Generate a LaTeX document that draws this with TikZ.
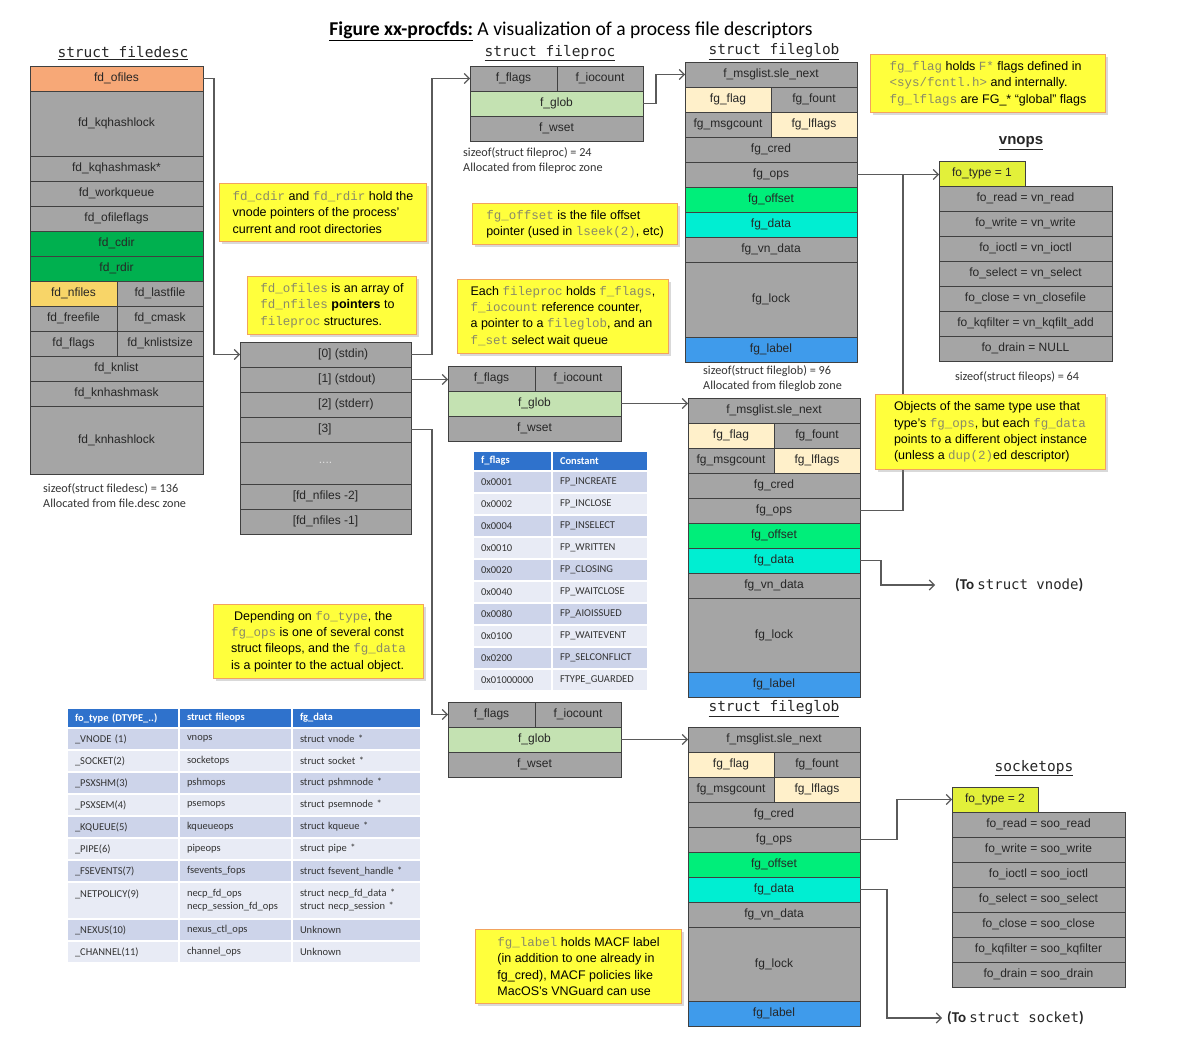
\documentclass[tikz,border=0pt]{standalone}
\usepackage{fontspec}
\setmainfont{Liberation Sans}
\newfontfamily\tabfont{Carlito}
\newfontfamily\codefont{Liberation Mono}
\newfontfamily\headmono{DejaVu Sans Mono}
\usetikzlibrary{positioning,arrows.meta,shadows}
\definecolor{cellgray}{HTML}{A5A5A5}
\definecolor{celledge}{HTML}{404040}
\definecolor{ofileorange}{HTML}{F7A877}
\definecolor{dirgreen}{HTML}{00B04F}
\definecolor{nfilesgold}{HTML}{F8D568}
\definecolor{globgreen}{HTML}{C4E2B2}
\definecolor{flagcream}{HTML}{FFF0CA}
\definecolor{offgreen}{HTML}{00EE7A}
\definecolor{datacyan}{HTML}{00EED2}
\definecolor{labelblue}{HTML}{3F9BEB}
\definecolor{typelime}{HTML}{E2F03A}
\definecolor{noteyellow}{HTML}{FFFF3C}
\definecolor{noteedge}{HTML}{F2A35E}
\definecolor{codegray}{HTML}{8A8A68}
\definecolor{wiregray}{HTML}{5A5A5A}
\definecolor{hdrblue}{HTML}{2F72CC}
\definecolor{rowdark}{HTML}{CDD4EA}
\definecolor{rowlight}{HTML}{E8EBF5}
\newcommand\boxsize{\fontsize{12}{14}\selectfont}
\newcommand\notesize{\fontsize{12.5}{16.3}\selectfont}
\newcommand\tabsize{\tabfont\fontsize{10.5}{13}\selectfont}
\newcommand\ccode[1]{{\codefont\color{codegray}#1}}
\tikzset{
  cell/.style   = {draw=celledge, fill=cellgray, line width=0.9pt, minimum width=#1,
                   minimum height=25, inner sep=0, outer sep=0, font=\boxsize, text=black!85},
  cell/.default = 173,
  idxtxt/.style = {font=\boxsize, text=black!85, inner sep=0},
  note/.style 2 args = {draw=noteedge, fill=noteyellow, line width=1pt, minimum width=#1,
                   minimum height=#2, align=left, inner sep=0, font=\notesize, anchor=north west,
                   drop shadow={opacity=0.3, shadow xshift=2pt, shadow yshift=-2.5pt}},
  wire/.style   = {draw=wiregray, line width=1.1pt, -{Straight Barb[length=5pt,width=10pt]}},
  joinline/.style = {draw=wiregray, line width=1.1pt},
  stitle/.style = {font=\headmono\fontsize{14.5}{16}\selectfont, text=black!85},
  sizeinfo/.style = {font=\tabfont\fontsize{12.2}{15}\selectfont, text=black!80, align=left,
                   anchor=north west, inner sep=0},
  tcell/.style  = {draw=white, line width=1.2pt, minimum height=22, inner xsep=8, inner ysep=0,
                   outer sep=0, align=left, font=\tabsize, text=black!80},
  thead/.style  = {fill=hdrblue, minimum height=20, text=white, font=\tabsize\bfseries},
  oa/.style = {tcell, text width=96}, ob/.style = {tcell, text width=97},
  oc/.style = {tcell, text width=113},
  fa/.style = {tcell, text width=63}, fb/.style = {tcell, text width=80},
}
\begin{document}
\begin{tikzpicture}[x=1pt, y=-1pt]
  \useasboundingbox (0,0) rectangle (1200,1043);
  \node (title) at (571,31) {\tabfont\fontsize{19.6}{22}\selectfont\underline{\textbf{Figure xx-procfds:}} A visualization of a process file descriptors};

  % struct filedesc
  \node[stitle] (tFd) at (123,53) {\underline{struct filedesc}};
  \node[cell, fill=ofileorange, anchor=north west] (fdA) at (30,66) {fd\_ofiles};
  \node[cell, minimum height=65, below=0pt of fdA] (fdB) {fd\_kqhashlock};
  \node[cell, below=0pt of fdB] (fdC) {fd\_kqhashmask*};
  \node[cell, below=0pt of fdC] (fdD) {fd\_workqueue};
  \node[cell, below=0pt of fdD] (fdE) {fd\_ofileflags};
  \node[cell, fill=dirgreen, below=0pt of fdE] (fdF) {fd\_cdir};
  \node[cell, fill=dirgreen, below=0pt of fdF] (fdG) {fd\_rdir};
  \node[cell=87, fill=nfilesgold, below right=0pt and 0pt of fdG.south west] (fdH) {fd\_nfiles};
  \node[cell=86, right=0pt of fdH] (fdH2) {fd\_lastfile};
  \node[cell=87, below=0pt of fdH] (fdJ) {fd\_freefile}; \node[cell=86, right=0pt of fdJ] (fdJ2) {fd\_cmask};
  \node[cell=87, below=0pt of fdJ] (fdK) {fd\_flags}; \node[cell=86, right=0pt of fdK] (fdK2) {fd\_knlistsize};
  \node[cell, below right=0pt and 0pt of fdK.south west] (fdL) {fd\_knlist};
  \node[cell, below=0pt of fdL] (fdM) {fd\_knhashmask};
  \node[cell, minimum height=68, below=0pt of fdM] (fdN) {fd\_knhashlock};
  \node[sizeinfo] (szFd) at (43,483) {sizeof(struct filedesc) = 136\\Allocated from file.desc zone};

  % fd_ofiles array
  \node[cell=171, anchor=north west] (ar0) at (240,342) {};
  \node[cell=171, below=0pt of ar0] (ar1) {};
  \node[cell=171, below=0pt of ar1] (ar2) {};
  \node[cell=171, below=0pt of ar2] (ar3) {};
  \node[cell=171, minimum height=42, text=black!12, below=0pt of ar3] (arD) {....};
  \node[cell=171, below=0pt of arD] (arN2) {[fd\_nfiles -2]};
  \node[cell=171, below=0pt of arN2] (arN1) {[fd\_nfiles -1]};
  \node[idxtxt, right=78pt of ar0.west] (ar0t) {[0] (stdin)};
  \node[idxtxt, right=78pt of ar1.west] (ar1t) {[1] (stdout)};
  \node[idxtxt, right=78pt of ar2.west] (ar2t) {[2] (stderr)};
  \node[idxtxt, right=78pt of ar3.west] (ar3t) {[3]};

  % struct fileproc (x3)
  \node[stitle] (tFp) at (550,53) {\underline{struct fileproc}};
  \node[cell=87, anchor=north west] (fp1a) at (470,66) {f\_flags}; \node[cell=86, right=0pt of fp1a] (fp1b) {f\_iocount};
  \node[cell, fill=globgreen, below right=0pt and 0pt of fp1a.south west] (fp1g) {f\_glob};
  \node[cell, below=0pt of fp1g] (fp1w) {f\_wset};
  \node[sizeinfo] (szFp) at (463,147) {sizeof(struct fileproc) = 24\\Allocated from fileproc zone};

  \node[cell=87, anchor=north west] (fp2a) at (448,366) {f\_flags}; \node[cell=86, right=0pt of fp2a] (fp2b) {f\_iocount};
  \node[cell, fill=globgreen, below right=0pt and 0pt of fp2a.south west] (fp2g) {f\_glob};
  \node[cell, below=0pt of fp2g] (fp2w) {f\_wset};

  \node[cell=87, anchor=north west] (fp3a) at (448,702) {f\_flags}; \node[cell=86, right=0pt of fp3a] (fp3b) {f\_iocount};
  \node[cell, fill=globgreen, below right=0pt and 0pt of fp3a.south west] (fp3g) {f\_glob};
  \node[cell, below=0pt of fp3g] (fp3w) {f\_wset};

  % struct fileglob (x3)
  \node[stitle] (tFg1) at (774,52) {\underline{struct fileglob}};
  \node[cell=172, anchor=north west] (fg1a) at (685,62) {f\_msglist.sle\_next};
  \node[cell=86, fill=flagcream, below right=0pt and 0pt of fg1a.south west] (fg1flag) {fg\_flag}; \node[cell=86, right=0pt of fg1flag] (fg1fount) {fg\_fount};
  \node[cell=86, below=0pt of fg1flag] (fg1cnt) {fg\_msgcount}; \node[cell=86, fill=flagcream, right=0pt of fg1cnt] (fg1lfl) {fg\_lflags};
  \node[cell=172, below right=0pt and 0pt of fg1cnt.south west] (fg1cred) {fg\_cred};
  \node[cell=172, below=0pt of fg1cred] (fg1ops) {fg\_ops};
  \node[cell=172, fill=offgreen, below=0pt of fg1ops] (fg1off) {fg\_offset};
  \node[cell=172, fill=datacyan, below=0pt of fg1off] (fg1data) {fg\_data};
  \node[cell=172, below=0pt of fg1data] (fg1vn) {fg\_vn\_data};
  \node[cell=172, minimum height=75, below=0pt of fg1vn] (fg1lock) {fg\_lock};
  \node[cell=172, fill=labelblue, below=0pt of fg1lock] (fg1lab) {fg\_label};
  \node[sizeinfo] (szFg) at (703,365) {sizeof(struct fileglob) = 96\\Allocated from fileglob zone};

  \node[cell=172, anchor=north west] (fg2a) at (688,398) {f\_msglist.sle\_next};
  \node[cell=86, fill=flagcream, below right=0pt and 0pt of fg2a.south west] (fg2flag) {fg\_flag}; \node[cell=86, right=0pt of fg2flag] (fg2fount) {fg\_fount};
  \node[cell=86, below=0pt of fg2flag] (fg2cnt) {fg\_msgcount}; \node[cell=86, fill=flagcream, right=0pt of fg2cnt] (fg2lfl) {fg\_lflags};
  \node[cell=172, below right=0pt and 0pt of fg2cnt.south west] (fg2cred) {fg\_cred};
  \node[cell=172, below=0pt of fg2cred] (fg2ops) {fg\_ops};
  \node[cell=172, fill=offgreen, below=0pt of fg2ops] (fg2off) {fg\_offset};
  \node[cell=172, fill=datacyan, below=0pt of fg2off] (fg2data) {fg\_data};
  \node[cell=172, below=0pt of fg2data] (fg2vn) {fg\_vn\_data};
  \node[cell=172, minimum height=74, below=0pt of fg2vn] (fg2lock) {fg\_lock};
  \node[cell=172, fill=labelblue, below=0pt of fg2lock] (fg2lab) {fg\_label};

  \node[stitle] (tFg3) at (774,709) {\underline{struct fileglob}};
  \node[cell=172, anchor=north west] (fg3a) at (688,727) {f\_msglist.sle\_next};
  \node[cell=86, fill=flagcream, below right=0pt and 0pt of fg3a.south west] (fg3flag) {fg\_flag}; \node[cell=86, right=0pt of fg3flag] (fg3fount) {fg\_fount};
  \node[cell=86, below=0pt of fg3flag] (fg3cnt) {fg\_msgcount}; \node[cell=86, fill=flagcream, right=0pt of fg3cnt] (fg3lfl) {fg\_lflags};
  \node[cell=172, below right=0pt and 0pt of fg3cnt.south west] (fg3cred) {fg\_cred};
  \node[cell=172, below=0pt of fg3cred] (fg3ops) {fg\_ops};
  \node[cell=172, fill=offgreen, below=0pt of fg3ops] (fg3off) {fg\_offset};
  \node[cell=172, fill=datacyan, below=0pt of fg3off] (fg3data) {fg\_data};
  \node[cell=172, below=0pt of fg3data] (fg3vn) {fg\_vn\_data};
  \node[cell=172, minimum height=74, below=0pt of fg3vn] (fg3lock) {fg\_lock};
  \node[cell=172, fill=labelblue, below=0pt of fg3lock] (fg3lab) {fg\_label};

  % vnops
  \node[font=\fontsize{15}{17}\selectfont\bfseries, text=black!85] (tVn) at (1021,143) {\underline{vnops}};
  \node[cell=86, fill=typelime, anchor=north west] (vtype) at (939,161) {fo\_type = 1};
  \node[cell, below right=0pt and 0pt of vtype.south west] (vread) {fo\_read = vn\_read};
  \node[cell, below=0pt of vread] (vwrite) {fo\_write = vn\_write};
  \node[cell, below=0pt of vwrite] (vioctl) {fo\_ioctl = vn\_ioctl};
  \node[cell, below=0pt of vioctl] (vselect) {fo\_select = vn\_select};
  \node[cell, below=0pt of vselect] (vclose) {fo\_close = vn\_closefile};
  \node[cell, below=0pt of vclose] (vkq) {fo\_kqfilter = vn\_kqfilt\_add};
  \node[cell, below=0pt of vkq] (vdrain) {fo\_drain = NULL};
  \node[sizeinfo, anchor=center] (szOps) at (1017,377) {sizeof(struct fileops) = 64};

  % socketops
  \node[stitle] (tSo) at (1034,768) {\underline{socketops}};
  \node[cell=86, fill=typelime, anchor=north west] (stype) at (952,787) {fo\_type = 2};
  \node[cell, below right=0pt and 0pt of stype.south west] (sread) {fo\_read = soo\_read};
  \node[cell, below=0pt of sread] (swrite) {fo\_write = soo\_write};
  \node[cell, below=0pt of swrite] (sioctl) {fo\_ioctl = soo\_ioctl};
  \node[cell, below=0pt of sioctl] (sselect) {fo\_select = soo\_select};
  \node[cell, below=0pt of sselect] (sclose) {fo\_close = soo\_close};
  \node[cell, below=0pt of sclose] (skq) {fo\_kqfilter = soo\_kqfilter};
  \node[cell, below=0pt of skq] (sdrain) {fo\_drain = soo\_drain};

  \node[anchor=west, inner sep=0, text=black!85] (tovn) at (955,585) {\tabfont\fontsize{15}{17}\selectfont\bfseries (To {\headmono\mdseries\fontsize{14}{17}\selectfont struct vnode})};
  \node[anchor=west, inner sep=0, text=black!85] (tosk) at (947,1018) {\tabfont\fontsize{15}{17}\selectfont\bfseries (To {\headmono\mdseries\fontsize{14}{17}\selectfont struct socket})};

  % f_flags table
  \node[fa, thead, anchor=north west] (ffH1) at (473,451) {f\_flags}; \node[fb, thead, right=0pt of ffH1] (ffH2) {Constant};
  \node[fa, fill=rowdark, below=0pt of ffH1] (ff1) {0x0001}; \node[fb, fill=rowdark, right=0pt of ff1] (ff1b) {FP\_INCREATE};
  \node[fa, fill=rowlight, below=0pt of ff1] (ff2) {0x0002}; \node[fb, fill=rowlight, right=0pt of ff2] (ff2b) {FP\_INCLOSE};
  \node[fa, fill=rowdark, below=0pt of ff2] (ff3) {0x0004}; \node[fb, fill=rowdark, right=0pt of ff3] (ff3b) {FP\_INSELECT};
  \node[fa, fill=rowlight, below=0pt of ff3] (ff4) {0x0010}; \node[fb, fill=rowlight, right=0pt of ff4] (ff4b) {FP\_WRITTEN};
  \node[fa, fill=rowdark, below=0pt of ff4] (ff5) {0x0020}; \node[fb, fill=rowdark, right=0pt of ff5] (ff5b) {FP\_CLOSING};
  \node[fa, fill=rowlight, below=0pt of ff5] (ff6) {0x0040}; \node[fb, fill=rowlight, right=0pt of ff6] (ff6b) {FP\_WAITCLOSE};
  \node[fa, fill=rowdark, below=0pt of ff6] (ff7) {0x0080}; \node[fb, fill=rowdark, right=0pt of ff7] (ff7b) {FP\_AIOISSUED};
  \node[fa, fill=rowlight, below=0pt of ff7] (ff8) {0x0100}; \node[fb, fill=rowlight, right=0pt of ff8] (ff8b) {FP\_WAITEVENT};
  \node[fa, fill=rowdark, below=0pt of ff8] (ff9) {0x0200}; \node[fb, fill=rowdark, right=0pt of ff9] (ff9b) {FP\_SELCONFLICT};
  \node[fa, fill=rowlight, below=0pt of ff9] (ff10) {0x01000000}; \node[fb, fill=rowlight, right=0pt of ff10] (ff10b) {FTYPE\_GUARDED};

  % fo_type table
  \node[oa, thead, anchor=north west] (otH1) at (67,708) {fo\_type (DTYPE\_..)};
  \node[ob, thead, right=0pt of otH1] (otH2) {struct fileops}; \node[oc, thead, right=0pt of otH2] (otH3) {fg\_data};
  \node[oa, fill=rowdark, below=0pt of otH1] (ot1) {\_VNODE (1)};
  \node[ob, fill=rowdark, right=0pt of ot1] (ot1b) {vnops}; \node[oc, fill=rowdark, right=0pt of ot1b] (ot1c) {struct vnode *};
  \node[oa, fill=rowlight, below=0pt of ot1] (ot2) {\_SOCKET(2)};
  \node[ob, fill=rowlight, right=0pt of ot2] (ot2b) {socketops}; \node[oc, fill=rowlight, right=0pt of ot2b] (ot2c) {struct socket *};
  \node[oa, fill=rowdark, below=0pt of ot2] (ot3) {\_PSXSHM(3)};
  \node[ob, fill=rowdark, right=0pt of ot3] (ot3b) {pshmops}; \node[oc, fill=rowdark, right=0pt of ot3b] (ot3c) {struct pshmnode *};
  \node[oa, fill=rowlight, below=0pt of ot3] (ot4) {\_PSXSEM(4)};
  \node[ob, fill=rowlight, right=0pt of ot4] (ot4b) {psemops}; \node[oc, fill=rowlight, right=0pt of ot4b] (ot4c) {struct psemnode *};
  \node[oa, fill=rowdark, below=0pt of ot4] (ot5) {\_KQUEUE(5)};
  \node[ob, fill=rowdark, right=0pt of ot5] (ot5b) {kqueueops}; \node[oc, fill=rowdark, right=0pt of ot5b] (ot5c) {struct kqueue *};
  \node[oa, fill=rowlight, below=0pt of ot5] (ot6) {\_PIPE(6)};
  \node[ob, fill=rowlight, right=0pt of ot6] (ot6b) {pipeops}; \node[oc, fill=rowlight, right=0pt of ot6b] (ot6c) {struct pipe *};
  \node[oa, fill=rowdark, below=0pt of ot6] (ot7) {\_FSEVENTS(7)};
  \node[ob, fill=rowdark, right=0pt of ot7] (ot7b) {fsevents\_fops}; \node[oc, fill=rowdark, right=0pt of ot7b] (ot7c) {struct fsevent\_handle *};
  \node[oa, fill=rowlight, minimum height=37, below=0pt of ot7] (ot8) {\_NETPOLICY(9)\\~};
  \node[ob, fill=rowlight, minimum height=37, right=0pt of ot8] (ot8b) {necp\_fd\_ops\\necp\_session\_fd\_ops};
  \node[oc, fill=rowlight, minimum height=37, right=0pt of ot8b] (ot8c) {struct necp\_fd\_data *\\struct necp\_session *};
  \node[oa, fill=rowdark, below=0pt of ot8] (ot9) {\_NEXUS(10)};
  \node[ob, fill=rowdark, right=0pt of ot9] (ot9b) {nexus\_ctl\_ops}; \node[oc, fill=rowdark, right=0pt of ot9b] (ot9c) {Unknown};
  \node[oa, fill=rowlight, below=0pt of ot9] (ot10) {\_CHANNEL(11)};
  \node[ob, fill=rowlight, right=0pt of ot10] (ot10b) {channel\_ops}; \node[oc, fill=rowlight, right=0pt of ot10b] (ot10c) {Unknown};

  % pointers
  \draw[wire] (fdA.east) -- ++(11,0) |- (ar0.west);
  \draw[wire] (ar0.east) -- ++(21,0) |- (fp1a.west);
  \draw[wire] (ar1.east) -- (ar1.east -| fp2a.west);
  \draw[wire] (ar3.east) -- ++(21,0) |- (fp3a.west);
  \draw[wire] (fp1g.east) -- ++(13,0) |- (fg1a.west);
  \draw[wire] (fp2g.east) -- (fp2g.east -| fg2a.west);
  \draw[wire] (fp3g.east) -- (fg3a.west);
  \draw[wire] (fg1ops.east) -- (fg1ops.east -| vtype.west);
  \draw[joinline] (fg2ops.east) -| ([xshift=46]fg1ops.east);
  \draw[wire] (fg2data.east) -- ++(21,0) |- ([xshift=-20]tovn.west);
  \draw[wire] (fg3ops.east) -- ++(37,0) |- (stype.west);
  \draw[wire] (fg3data.east) -- ++(27,0) |- ([xshift=-5]tosk.west);

  % notes
  \node[note={235}{58}] (nFlag) at (870,54) {\ccode{fg\_flag} holds \ccode{F*} flags defined in\\\ccode{<sys/fcntl.h>} and internally.\\\ccode{fg\_lflags} are FG\_* “global” flags};
  \node[note={207}{58}] (nDir) at (219,183) {\ccode{fd\_cdir} and \ccode{fd\_rdir} hold the\\vnode pointers of the process'\\current and root directories};
  \node[note={169}{58}] (nOfiles) at (247,276) {\ccode{fd\_ofiles} is an array of\\\ccode{fd\_nfiles} \textbf{pointers} to\\\ccode{fileproc} structures.};
  \node[note={205}{41}] (nOff) at (472,203) {\ccode{fg\_offset} is the file offset\\pointer (used in \ccode{lseek(2)}, etc)};
  \node[note={211}{74}] (nProc) at (457,279) {Each \ccode{fileproc} holds \ccode{f\_flags},\\\ccode{f\_iocount} reference counter,\\a pointer to a \ccode{fileglob}, and an\\\ccode{f\_set} select wait queue};
  \node[note={230}{75}] (nObj) at (875,394) {Objects of the same type use that\\type's \ccode{fg\_ops}, but each \ccode{fg\_data}\\points to a different object instance\\(unless a \ccode{dup(2)}ed descriptor)};
  \node[note={210}{74}] (nDep) at (213,604) {\hspace*{3pt}Depending on \ccode{fo\_type}, the\\\ccode{fg\_ops} is one of several const\\struct fileops, and the \ccode{fg\_data}\\is a pointer to the actual object.};
  \node[note={206}{74}] (nLab) at (475,929) {\ccode{fg\_label} holds MACF label\\(in addition to one already in\\fg\_cred), MACF policies like\\MacOS's VNGuard can use};
\end{tikzpicture}
\end{document}
